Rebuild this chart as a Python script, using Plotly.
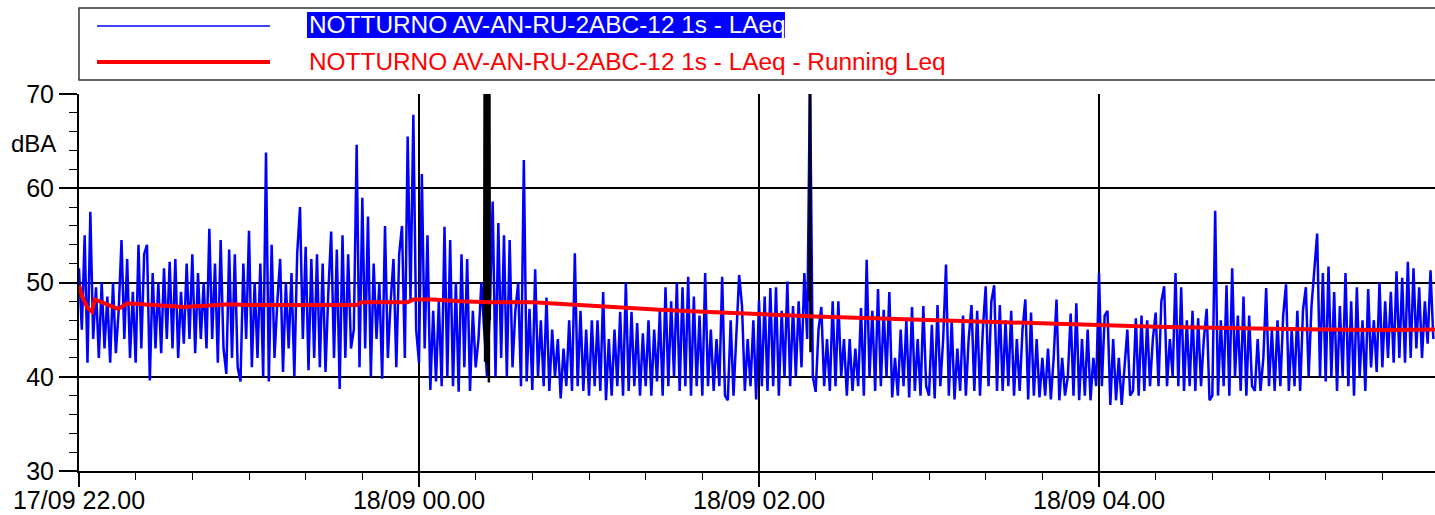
import numpy as np
import pandas as pd
import plotly.graph_objects as go

START = pd.Timestamp("2020-09-17 22:00:00")
END = pd.Timestamp("2020-09-18 05:58:35")

# LAeq, one value per minute, per hour
blue_h22 = [51.5, 45, 55, 41.5, 57.5, 44,
            49.5, 42, 50, 43, 48.5, 41.5, 50, 42.5,
            47, 54.5, 44, 52.5, 42, 49, 41.5,
            54, 43, 53, 54, 39.6, 51, 43,
            50, 42.5, 51.5, 44, 52.2, 43, 52.5, 42, 49,
            43.5, 52, 44, 53, 42.5, 51, 44, 50, 43,
            55.7, 44, 52, 41.5, 54.5, 43, 40.3, 53.5,
            42, 53, 41, 39.5, 52, 44]
blue_h23 = [55.5, 41, 50, 42, 52, 40,
            63.8,
            39.5, 54, 42, 48, 52.5, 40.5, 50, 43, 51, 40, 53, 58, 44,
            53.8, 40.7, 52.5, 42, 53, 41,
            52, 40.5, 49, 55.4, 42,
            53.5, 38.7, 55, 42, 53, 43,
            45, 64.6, 41, 59,
            43, 57, 40, 52, 44, 50, 39.8, 56, 42,
            48, 52.5, 41, 53,
            56, 42, 65.5, 48, 67.8, 45]
blue_h00 = [41.5, 61.5, 43, 55, 38.6, 47, 39.5, 48, 39, 55.9,
            40, 54.5, 39, 50, 38.4, 53, 41, 52.5, 38.5, 47,
            41, 44, 50,
            45, 40, 47,
            58.6, 40, 56.3, 42, 55, 40, 54.5, 41, 47, 50, 39, 63, 39.5, 47.2,
            38.6, 51.4, 40, 46, 39, 48.4, 38.5, 45, 40, 44,
            37.7, 43, 39, 46, 38.5, 53.1, 39, 47, 38.5, 45]
blue_h01 = [38, 46, 39, 46, 38.5, 49,
            37.5, 44, 38, 45, 39, 46.9, 38, 50,
            38.5, 46.9, 39, 45.7, 38, 44.6, 39, 46, 38, 45, 39.5, 47, 38, 49.5,
            39, 48, 40, 50, 38.5, 49.5, 39, 50.6, 38,
            48.5, 39, 46.5, 38, 51, 39, 45, 38.5, 44, 39,
            50.6, 38, 37.5, 46, 38, 44, 50.8,
            47.5, 38.5, 44, 39, 46, 37.6]
blue_h02 = [48.1, 39, 48.5, 38.5, 49.4, 39,
            49.5, 38, 47, 40, 50.1, 39,
            47.5, 40, 48, 41, 51, 44,
            72,
            40, 38.4, 45, 47.4, 39, 44, 38.5, 48, 39, 48, 40, 44,
            38, 44, 38.5, 43, 39, 47.3, 38,
            52.4,
            40, 47, 38.5, 49.3,
            39, 47.1, 40, 49, 37.8, 42,
            38, 45, 39, 46, 37.8, 47.4, 38.5, 44, 38, 47.5,
            39]
blue_h03 = [38, 45.5, 37.7, 47.6, 39, 44, 51.9,
            38, 46, 37.6, 43, 38.5, 46.5, 38, 44,
            47.6, 38.5, 47, 38, 45, 49.6,
            39, 48, 49.7, 38.5, 47.6,
            38.5, 46, 39, 47, 38, 44, 38.5, 45,
            48.2,
            37.6, 46.8, 38, 44, 37.8, 42, 38, 43, 37.6,
            42, 48.2, 37.5, 42, 38, 40, 46.7,
            38, 47.8, 37.5, 44, 38, 45, 37.5, 42, 39]
blue_h04 = [51, 39, 46.5, 47, 37,
            44, 37.5, 42, 37, 41, 45,
            38, 38.5, 46.2, 38, 46.5,
            38.5, 46, 39, 44, 46.8,
            39, 48, 49.6, 39, 44, 40,
            51, 39, 49.5,
            38.5, 46, 39, 47, 38.5, 46.2, 39, 44,
            47.2, 37.5, 38,
            57.6,
            38, 46, 39, 49.7, 38, 51.5, 40,
            46.5, 38.5, 48.5, 38, 46.5, 39,
            38.5, 44, 38.5, 42, 49.4]
blue_h05 = [39, 45, 38.5, 46, 39, 46.5,
            49.8,
            38.5, 45, 39, 47, 38.5, 47.1,
            49.5, 40, 47.5, 51.3,
            55.2,
            40, 51, 39.5, 51.7,
            40, 49, 38.5, 47.5, 40, 51, 39,
            48, 38, 49.5, 40, 46, 38.5, 49.3, 41,
            46, 40.5, 50, 41, 48, 42, 49, 41.5, 51.2,
            42, 50.5, 41.5, 52.2, 42, 51.5,
            43, 49.5, 42, 48, 43.5, 51.3, 44]

# Running Leq (minutes after 22:00, value)
red_minutes = [0, 1, 3, 4.6, 5.6, 10, 13.8, 17, 28, 37, 53, 60, 80, 98, 99.5, 116, 118,
               125, 134.5, 145, 160, 175, 190, 205, 220, 240, 260, 280, 300, 320,
               340, 360, 380, 400, 415, 440, 460, 478.6]
red_values = [49.7, 48.6, 47.3, 46.9, 48.2, 47.7, 47.2, 47.8, 47.6, 47.4, 47.7, 47.6, 47.6, 47.6,
              47.9, 47.9, 48.2, 48.2, 48.0, 47.9, 47.9, 47.6, 47.3, 47.1, 46.9, 46.6,
              46.4, 46.2, 46.0, 45.9, 45.7, 45.5, 45.3, 45.2, 45.1, 45.0, 44.95, 45.0]

# Excluded events (black), 10-second samples
black1_start_min = 143.0
black1_values = [45, 75, 41.6, 75, 41.8, 76, 41.5, 75, 40.5, 75, 39.4, 75, 46]
black2_start_min = 257 + 50 / 60
black2_values = [48, 75, 42.6, 47]

blue_values = blue_h22 + blue_h23 + blue_h00 + blue_h01 + blue_h02 + blue_h03 + blue_h04 + blue_h05
blue_times = START + pd.to_timedelta(np.arange(len(blue_values)), unit="min")
red_times = START + pd.to_timedelta(red_minutes, unit="min")


def event_times(start_min, n):
    return list(START + pd.to_timedelta(start_min, unit="min") + pd.to_timedelta(np.arange(n) * 10, unit="s"))


black_x = event_times(black1_start_min, len(black1_values)) + [None] + event_times(black2_start_min, len(black2_values))
black_y = black1_values + [None] + black2_values

fig = go.Figure()
fig.add_trace(go.Scatter(x=blue_times, y=blue_values, mode="lines",
                         line=dict(color="#0000ff", width=2.5), showlegend=False,
                         name="NOTTURNO AV-AN-RU-2ABC-12 1s - LAeq"))
fig.add_trace(go.Scatter(x=black_x, y=black_y, mode="lines",
                         line=dict(color="black", width=2.5), showlegend=False, connectgaps=False))
fig.add_trace(go.Scatter(x=red_times, y=red_values, mode="lines",
                         line=dict(color="#ff0000", width=4), showlegend=False,
                         name="NOTTURNO AV-AN-RU-2ABC-12 1s - LAeq - Running Leq"))

FONT = "Liberation Sans, Arial, sans-serif"

fig.update_layout(
    width=1435, height=515,
    margin=dict(l=79, r=0, t=94, b=44, autoexpand=False),
    paper_bgcolor="white", plot_bgcolor="white",
    font=dict(family=FONT, color="black", size=24),
    showlegend=False,
)
fig.update_xaxes(
    type="date", range=[START, END], automargin=False,
    tick0=START, dtick=7200000, tickformat="%d/%m %H.%M",
    ticks="outside", ticklen=14, tickwidth=1.5, tickcolor="black",
    ticklabelstandoff=-8,
    showgrid=True, gridcolor="black", gridwidth=1.6,
    showline=True, linecolor="black", linewidth=2,
    zeroline=False, tickfont=dict(size=25, family=FONT),
    minor=dict(tick0=START, dtick=1200000, ticks="outside", ticklen=7,
               tickcolor="black", tickwidth=1, showgrid=False),
)
fig.update_yaxes(
    range=[30, 70], tick0=30, dtick=10, automargin=False,
    ticks="outside", ticklen=18, tickwidth=1.5, tickcolor="black",
    showgrid=True, gridcolor="black", gridwidth=1.6,
    showline=True, linecolor="black", linewidth=2,
    zeroline=False, tickfont=dict(size=25, family=FONT),
    minor=dict(dtick=2, ticks="outside", ticklen=8, tickcolor="black",
               tickwidth=1, showgrid=False),
)

PW = 1356.0
PH = 377.0


def px(xp):
    return (xp - 79) / PW


def py(yp):
    return (471 - yp) / PH


shapes = [
    dict(type="rect", xref="paper", yref="paper", x0=px(79), x1=px(1436), y0=py(80), y1=py(8),
         line=dict(color="#333333", width=1.5), fillcolor="white", layer="below"),
    dict(type="line", xref="paper", yref="paper", x0=px(97), x1=px(270), y0=py(26), y1=py(26),
         line=dict(color="#0000ff", width=1.5)),
    dict(type="line", xref="paper", yref="paper", x0=px(97), x1=px(270), y0=py(62), y1=py(62),
         line=dict(color="#ff0000", width=4)),
    dict(type="rect", xref="paper", yref="paper", x0=px(307), x1=px(785), y0=py(38), y1=py(12),
         line=dict(width=0), fillcolor="#0000ff"),
]
fig.update_layout(shapes=shapes)

fig.add_annotation(xref="paper", yref="paper", x=px(307), y=py(25), xanchor="left", yanchor="middle",
                   text="NOTTURNO AV-AN-RU-2ABC-12 1s - LAeq", showarrow=False,
                   font=dict(family=FONT, size=24.4, color="white"))
fig.add_annotation(xref="paper", yref="paper", x=px(307), y=py(61), xanchor="left", yanchor="middle",
                   text="NOTTURNO AV-AN-RU-2ABC-12 1s - LAeq - Running Leq", showarrow=False,
                   font=dict(family=FONT, size=24.4, color="#ff0000"))
fig.add_annotation(xref="paper", yref="paper", x=px(9), y=py(143), xanchor="left", yanchor="middle",
                   text="dBA", showarrow=False, font=dict(family=FONT, size=24, color="black"))

fig.write_html("out.html", config={"displayModeBar": False},
               post_script="document.body.style.margin='0';document.body.style.overflow='hidden';")
